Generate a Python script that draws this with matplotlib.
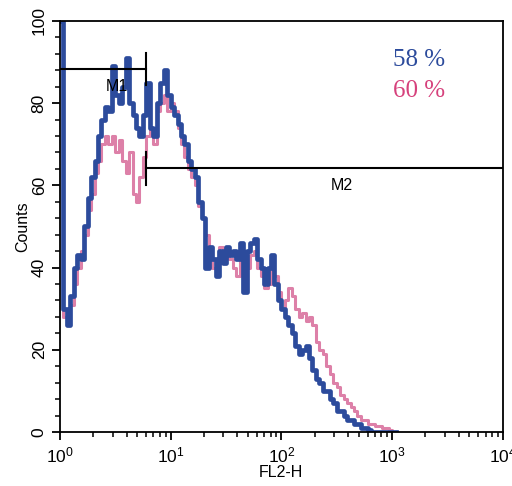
import numpy as np
from matplotlib import pyplot as plt
from matplotlib.ticker import MultipleLocator, LogLocator, NullFormatter

plt.rcParams['font.family'] = ['Liberation Sans', 'DejaVu Sans']
plt.rcParams['mathtext.default'] = 'regular'

# channel grid (1024 channels over 4 decades), FL2-H = 10**(ch/256)
channels = np.arange(0, 784, 8)

blue_counts = [100, 30, 26, 33, 40, 43, 42, 50, 57, 62,
               66, 72, 76, 79, 78, 89, 82, 80, 84, 91,
               80, 77, 74, 72, 77, 85, 74, 72, 80, 85,
               88, 82, 79, 77, 75, 72, 70, 66, 64, 62,
               56, 52, 40, 45, 42, 38, 44, 41, 45, 43,
               44, 42, 46, 34, 44, 46, 47, 42, 40, 36,
               40, 43, 36, 32, 30, 28, 26, 24, 21, 19,
               20, 21, 18, 15, 13, 12, 10, 10, 8, 7,
               5, 5, 4, 3, 3, 2, 2, 1, 1, 0.5,
               0, 0, 0, 0, 0, 0, 0, 0]

pink_counts = [100, 28, 27, 31, 36, 40, 44, 48, 54, 58,
               63, 66, 70, 72, 70, 72, 68, 71, 66, 63,
               68, 58, 56, 62, 67, 72, 74, 70, 78, 80,
               82, 78, 80, 78, 74, 70, 67, 64, 62, 60,
               55, 52, 48, 44, 40, 42, 45, 44, 43, 42,
               40, 38, 42, 36, 40, 43, 44, 40, 38, 35,
               36, 40, 38, 34, 30, 32, 35, 33, 30, 28,
               29, 27, 28, 26, 22, 20, 19, 16, 14, 12,
               11, 9, 8, 7, 6, 5, 4, 3, 3, 2,
               2, 1.5, 1.5, 1, 1, 0.5, 0, 0]

fl2 = 10 ** (channels / 256)

# gates
m1_range = (1, 5.95)
m1_level = 88.3
m2_range = (5.95, 10000)
m2_level = 64.2

fig = plt.figure(figsize=(5.12, 4.86), dpi=100)
ax = fig.add_axes([0.117, 0.111, 0.865, 0.846])

ax.step(fl2, pink_counts, where='post', color='#dd80a8', lw=2.2)
ax.step(fl2, blue_counts, where='post', color='#2c4b9c', lw=3.4)

ax.plot(m1_range, [m1_level, m1_level], color='black', lw=1.5)
ax.plot([m1_range[1]] * 2, [m1_level - 4, m1_level + 4], color='black', lw=1.5)
ax.text(3.3, m1_level - 2.5, 'M1', ha='center', va='top', fontsize=11.5)
ax.plot(m2_range, [m2_level, m2_level], color='black', lw=1.5)
ax.plot([m2_range[0]] * 2, [m2_level - 4, m2_level + 4], color='black', lw=1.5)
ax.text(355, m2_level - 2.5, 'M2', ha='center', va='top', fontsize=11.5)

ax.text(0.81, 0.905, '58 %', transform=ax.transAxes, color='#2c4b9c',
        fontsize=18, ha='center', va='center', family='Liberation Serif')
ax.text(0.81, 0.83, '60 %', transform=ax.transAxes, color='#d6417c',
        fontsize=18, ha='center', va='center', family='Liberation Serif')

ax.set_xscale('log')
ax.set_xlim(1, 10000)
ax.set_ylim(0, 100)
ax.xaxis.set_major_locator(LogLocator(base=10))
ax.xaxis.set_minor_locator(LogLocator(base=10, subs=np.arange(2, 10)))
ax.xaxis.set_minor_formatter(NullFormatter())
ax.yaxis.set_major_locator(MultipleLocator(20))
ax.yaxis.set_minor_locator(MultipleLocator(4))
ax.tick_params(which='major', length=6, width=1.3, labelsize=12.5)
ax.tick_params(which='minor', length=3.5, width=1.1)
for lab in ax.get_yticklabels():
    lab.set_rotation(90)
    lab.set_va('center')
for s in ax.spines.values():
    s.set_linewidth(1.3)

ax.set_xlabel('FL2-H', fontsize=11.5, labelpad=0)
ax.set_ylabel('Counts', fontsize=11.5, labelpad=1)

fig.savefig('out.png', dpi=100)
